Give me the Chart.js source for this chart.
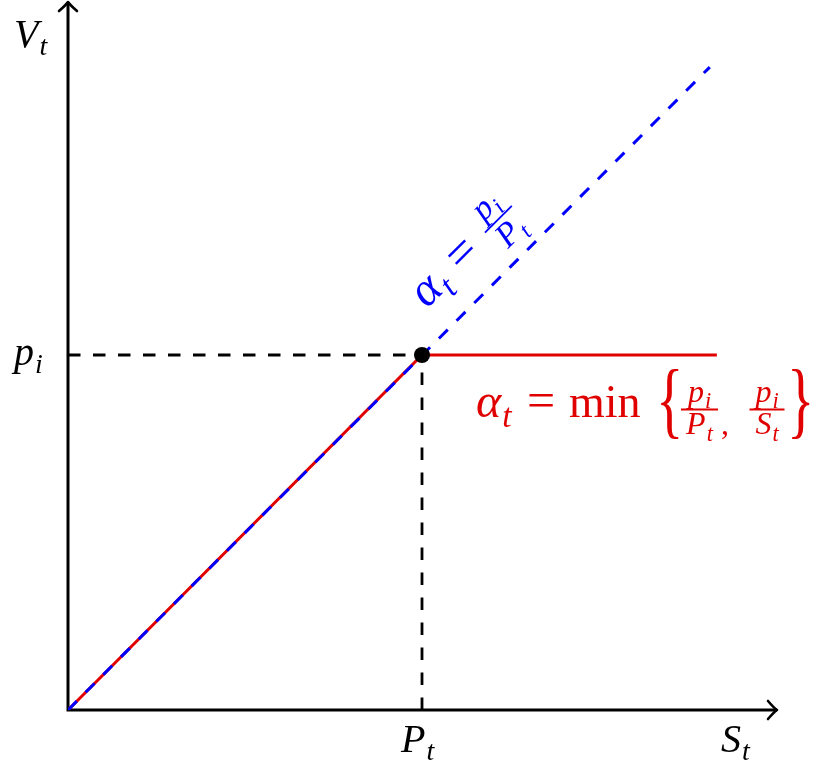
<!DOCTYPE html>
<html>
<head>
<meta charset="utf-8">
<script src="https://cdn.jsdelivr.net/npm/chart.js@4.4.1/dist/chart.umd.min.js"></script>
<style>
  html, body { margin: 0; padding: 0; background: #ffffff; }
  #wrap { width: 825px; height: 774px; position: relative; }
</style>
</head>
<body>
<div id="wrap"><canvas id="c" width="825" height="774"></canvas></div>
<script>
// ---- data ----
const axisMax = 2.0;                 // axis extent (units of P_t / p_i)
const kinkX = [1];                   // P_t
const kinkY = [1];                   // p_i
const redX = [0, 1, 1.833];          // alpha_t = min{p_i/P_t, p_i/S_t} payoff
const redY = [0, 1, 1];
const blueX = [0, 1.813];            // alpha_t = p_i/P_t payoff
const blueY = [0, 1.811];
const guideHX = [0, 1];              // dashed guide to p_i
const guideHY = [1, 1];
const guideVX = [1, 1];              // dashed guide to P_t (drawn bottom-up)
const guideVY = [0, 1];
const xTickLabel = ['P', 't'];
const yTickLabel = ['p', 'i'];
const xAxisTitle = ['S', 't'];
const yAxisTitle = ['V', 't'];

const zip = (xs, ys) => xs.map((x, i) => ({ x: x, y: ys[i] }));

const RED = '#e00000';
const BLUE = '#0000ff';
const FF = '"Liberation Serif", "DejaVu Serif", serif';

function setFont(ctx, size, italic) {
  ctx.font = (italic ? 'italic ' : '') + size + 'px ' + FF;
}
function txt(ctx, s, x, y, size, italic, draw) {
  setFont(ctx, size, italic);
  if (draw !== false) ctx.fillText(s, x, y);
  return ctx.measureText(s).width;
}
function sym(ctx, pair, x, y, size, draw) {
  const w1 = txt(ctx, pair[0], x, y, size, true, draw);
  const w2 = txt(ctx, pair[1], x + w1 + 1, y + size * 0.2, size * 0.7, true, draw);
  return w1 + 1 + w2;
}
function frac(ctx, cx, barY, barW, num, den, size, denOff) {
  const wn = sym(ctx, num, 0, 0, size, false);
  const wd = sym(ctx, den, 0, 0, size, false);
  sym(ctx, num, cx - wn / 2, barY - size * 0.25, size, true);
  sym(ctx, den, cx - wd / 2, barY + size * denOff, size, true);
  ctx.save();
  ctx.lineWidth = 1.8;
  ctx.strokeStyle = ctx.fillStyle;
  ctx.beginPath();
  ctx.moveTo(cx - barW / 2, barY);
  ctx.lineTo(cx + barW / 2, barY);
  ctx.stroke();
  ctx.restore();
}
function arrowHead(ctx, tx, ty, angle) {
  ctx.save();
  ctx.translate(tx, ty);
  ctx.rotate(angle);
  ctx.beginPath();
  ctx.moveTo(-9, -9);
  ctx.quadraticCurveTo(-3, -2, 0, 0);
  ctx.quadraticCurveTo(-3, 2, -9, 9);
  ctx.stroke();
  ctx.restore();
}

const axesPlugin = {
  id: 'axesPlugin',
  beforeDatasetsDraw(chart) {
    const ctx = chart.ctx;
    const xs = chart.scales.x, ys = chart.scales.y;
    const x0 = xs.getPixelForValue(0), y0 = ys.getPixelForValue(0);
    const xEnd = xs.getPixelForValue(axisMax) + 1;
    const yEnd = ys.getPixelForValue(axisMax) + 2;
    ctx.save();
    ctx.strokeStyle = '#000';
    ctx.lineWidth = 3;
    ctx.lineCap = 'butt';
    ctx.beginPath();
    ctx.moveTo(x0 - 1.5, y0);
    ctx.lineTo(xEnd, y0);
    ctx.moveTo(x0, y0 + 1.5);
    ctx.lineTo(x0, yEnd);
    ctx.stroke();
    ctx.lineCap = 'round';
    ctx.lineJoin = 'round';
    ctx.lineWidth = 2.6;
    arrowHead(ctx, xEnd, y0, 0);
    arrowHead(ctx, x0, yEnd, -Math.PI / 2);
    ctx.restore();
  },
  afterDraw(chart) {
    const ctx = chart.ctx;
    const xs = chart.scales.x, ys = chart.scales.y;
    const x0 = xs.getPixelForValue(0), y0 = ys.getPixelForValue(0);
    const px = xs.getPixelForValue(kinkX[0]), py = ys.getPixelForValue(kinkY[0]);
    const xM = xs.getPixelForValue(axisMax), yM = ys.getPixelForValue(axisMax);
    ctx.save();
    ctx.textBaseline = 'alphabetic';
    ctx.textAlign = 'left';
    // axis labels
    ctx.fillStyle = '#000';
    sym(ctx, xTickLabel, px - 21, y0 + 42, 40);
    sym(ctx, xAxisTitle, xM - 55, y0 + 42, 40);
    sym(ctx, yTickLabel, x0 - 54, py + 10, 40);
    sym(ctx, yAxisTitle, x0 - 54, yM + 47, 40);

    // red formula
    ctx.fillStyle = RED;
    const bx = px, by = py;
    sym(ctx, ['\u03B1', 't'], bx + 54, by + 62, 48);
    txt(ctx, '=', bx + 105, by + 62, 50, false);
    txt(ctx, 'min', bx + 147, by + 62, 46, false);
    // braces
    ctx.save();
    ctx.translate(bx + 234, by + 73);
    ctx.scale(0.68, 1);
    txt(ctx, '{', 0, 0, 84, false);
    ctx.restore();
    frac(ctx, bx + 277.5, by + 54.5, 37, ['p', 'i'], ['P', 't'], 32, 0.78);
    txt(ctx, ',', bx + 299, by + 79, 32, false);
    frac(ctx, bx + 345, by + 54.5, 35, ['p', 'i'], ['S', 't'], 32, 0.78);
    ctx.save();
    ctx.translate(bx + 365, by + 73);
    ctx.scale(0.68, 1);
    txt(ctx, '}', 0, 0, 84, false);
    ctx.restore();

    // blue rotated formula
    ctx.fillStyle = BLUE;
    ctx.save();
    ctx.translate(px, py);
    ctx.rotate(-Math.PI / 4);
    sym(ctx, ['\u03B1', 't'], 36, -29, 48);
    txt(ctx, '=', 86, -29, 50, false);
    frac(ctx, 150, -42, 38, ['p', 'i'], ['P', 't'], 34, 0.82);
    ctx.restore();
    ctx.restore();
  }
};

const dashed = [12.5, 12.5];
new Chart(document.getElementById('c'), {
  type: 'scatter',
  data: {
    datasets: [
      { label: 'kink', data: zip(kinkX, kinkY), showLine: false, pointRadius: 8,
        pointBackgroundColor: '#000', pointBorderWidth: 0, backgroundColor: '#000' },
      { label: 'blue', data: zip(blueX, blueY), showLine: true, borderColor: BLUE,
        borderWidth: 3, borderDash: dashed, pointRadius: 0, fill: false },
      { label: 'red', data: zip(redX, redY), showLine: true, borderColor: RED,
        borderWidth: 3, pointRadius: 0, fill: false },
      { label: 'guideH', data: zip(guideHX, guideHY), showLine: true, borderColor: '#000',
        borderWidth: 2.8, borderDash: dashed, pointRadius: 0, fill: false },
      { label: 'guideV', data: zip(guideVX, guideVY), showLine: true, borderColor: '#000',
        borderWidth: 2.8, borderDash: dashed, pointRadius: 0, fill: false }
    ]
  },
  options: {
    responsive: false,
    animation: false,
    devicePixelRatio: 1,
    layout: { autoPadding: false, padding: { left: 68, right: 49, top: 0, bottom: 64 } },
    plugins: { legend: { display: false }, tooltip: { enabled: false } },
    scales: {
      x: { type: 'linear', min: 0, max: axisMax, display: false },
      y: { type: 'linear', min: 0, max: axisMax, display: false }
    },
    elements: { line: { tension: 0 } }
  },
  plugins: [axesPlugin]
});
</script>
</body>
</html>
